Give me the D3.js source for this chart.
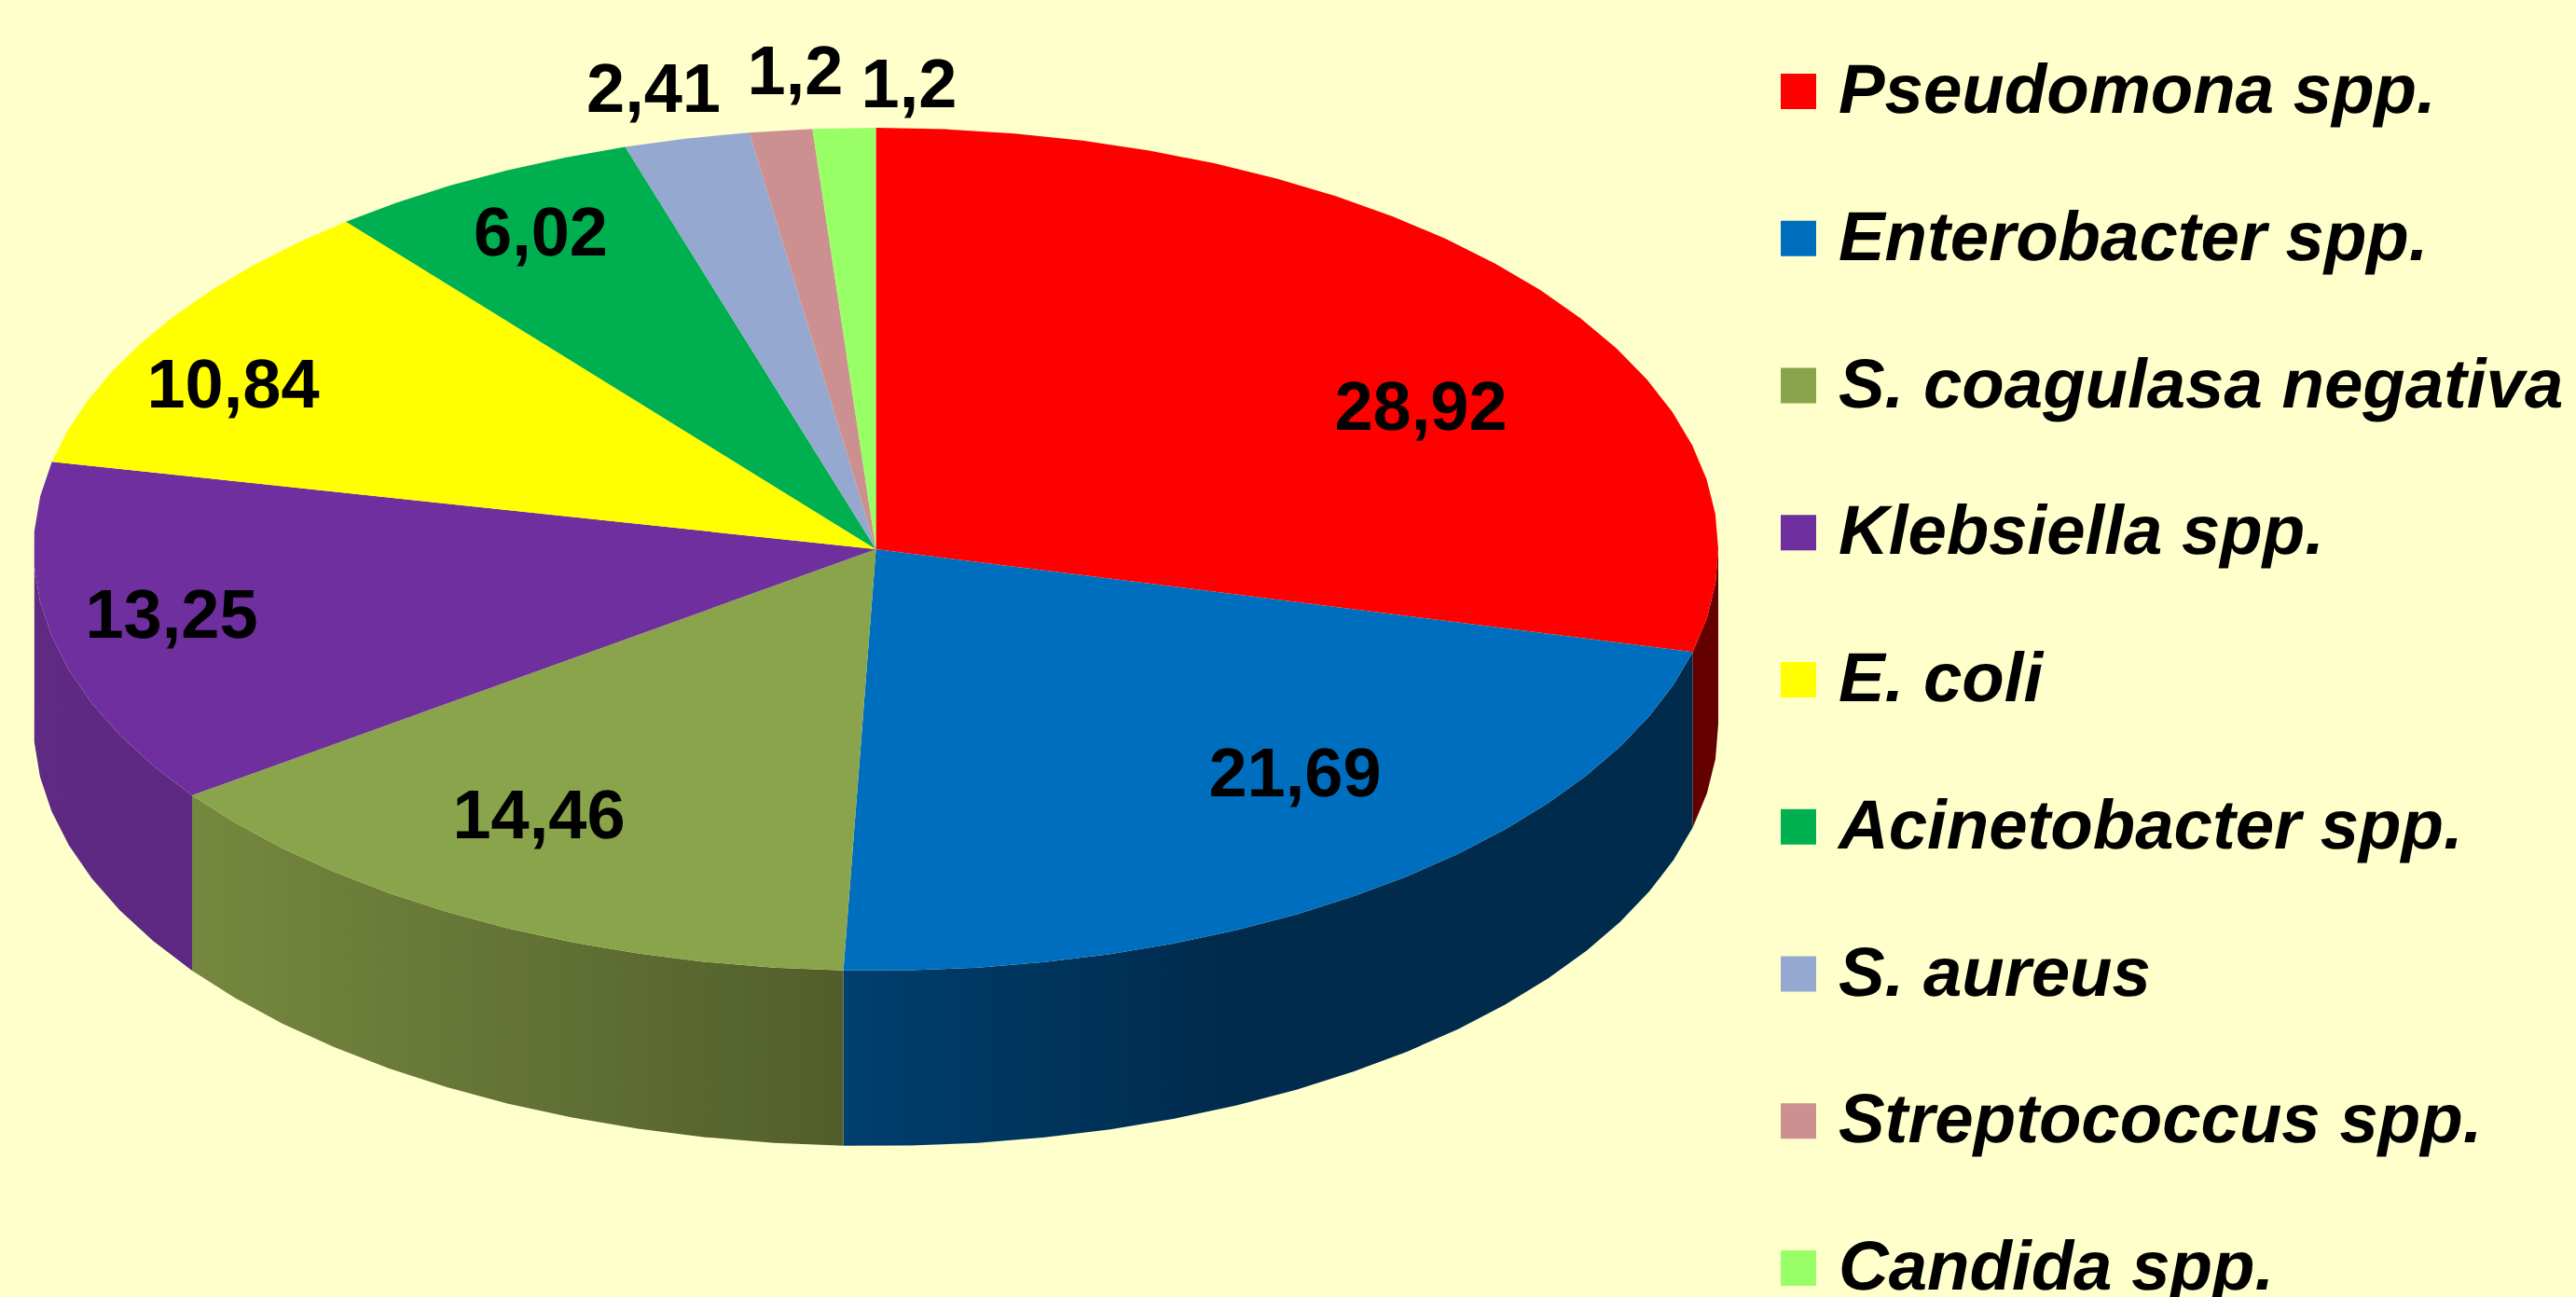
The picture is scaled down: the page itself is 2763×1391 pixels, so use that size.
<!DOCTYPE html>
<html>
<head>
<meta charset="utf-8">
<script src="https://cdn.jsdelivr.net/npm/d3@7"></script>
<style>
  html, body { margin: 0; padding: 0; background: #FFFFCC; overflow: hidden; }
  svg { display: block; }
  text { font-family: "Liberation Sans", Arial, sans-serif; font-weight: bold; font-size: 74px; fill: #000; text-rendering: geometricPrecision; }
</style>
</head>
<body>
<div id="chart"></div>
<script>
const categories = ["Pseudomona spp.", "Enterobacter spp.", "S. coagulasa negativa", "Klebsiella spp.", "E. coli", "Acinetobacter spp.", "S. aureus", "Streptococcus spp.", "Candida spp."];
const values = [28.92, 21.69, 14.46, 13.25, 10.84, 6.02, 2.41, 1.2, 1.2];
const colors = ["#FF0000", "#006EBF", "#8AA44C", "#6F2F9F", "#FFFF00", "#00AF50", "#95A8CF", "#CC9090", "#99FF66"];

// darker colours of the pie wall, [left end, right end] of each slice
const sideColors = [["#640000", "#640000"], ["#003F6E", "#002B4D"], ["#76883F", "#515E2B"], ["#5E2A84", "#5C2882"]];

// label centres and baselines
const labelX = [1524, 1389, 578, 184, 250, 580, 701, 853, 975];
const labelY = [461, 854, 899, 684, 437, 274, 120, 101, 115];

const width = 2763,
    height = 1391,
    cx = 939.5,
    cy = 589,
    rx = 903.5,
    ry = 452,
    depth = 188,
    facet = 4.8 * Math.PI / 180; // the original pie is a polygon, not a true curve

const legend = { x: 1910, textX: 1972, top: 79, step: 157.75, size: 38, font: 74.4 };

const svg = d3.select("#chart")
    .append("svg")
    .attr("width", width)
    .attr("height", height)
    .attr("viewBox", [0, 0, width, height]);

svg.append("rect")
    .attr("width", width)
    .attr("height", height)
    .attr("fill", "#FFFFCC");

const pie = d3.pie().sort(null).value(d => d)(values);

let x = d3.scaleLinear([-1, 1], [cx - rx, cx + rx]);
let y = d3.scaleLinear([-1, 1], [cy - ry, cy + ry]);

// rim points of a slice
function rim(d) {
    const n = Math.ceil((d.endAngle - d.startAngle) / facet);
    return d3.range(n + 1).map(k => d.startAngle + (d.endAngle - d.startAngle) * k / n);
}

const wall = d3.area()
    .x(a => x(Math.sin(a)))
    .y0(a => y(-Math.cos(a)))
    .y1(a => y(-Math.cos(a)) + depth);

const top_face = d3.line()
    .x(p => p == null ? cx : x(Math.sin(p)))
    .y(p => p == null ? cy : y(-Math.cos(p)));

const defs = svg.append("defs");

// walls: only the front half shows, the top faces cover what sticks out
pie.forEach((d, i) => {
    const angles = rim(d).filter(a => a > Math.PI / 2 - facet && a < Math.PI * 1.5 + facet);
    if (angles.length < 2) return;

    const x0 = d3.min(angles, a => x(Math.sin(a))),
        x1 = d3.max(angles, a => x(Math.sin(a)));

    const grad = defs.append("linearGradient")
        .attr("id", `side${i}`)
        .attr("gradientUnits", "userSpaceOnUse")
        .attr("x1", x0).attr("x2", x1)
        .attr("y1", 0).attr("y2", 0);
    grad.append("stop").attr("offset", 0).attr("stop-color", sideColors[i][0]);
    // the blue wall stops getting darker about half way along
    if (i == 1) grad.append("stop").attr("offset", 0.45).attr("stop-color", sideColors[i][1]);
    grad.append("stop").attr("offset", 1).attr("stop-color", sideColors[i][1]);

    svg.append("path")
        .attr("class", "side")
        .attr("d", wall(angles))
        .attr("fill", `url(#side${i})`);
});

svg.append("g")
    .selectAll("path")
    .data(pie)
    .join("path")
    .attr("class", "slice")
    .attr("d", d => top_face([null, ...rim(d)]) + "Z")
    .attr("fill", (d, i) => colors[i]);

svg.append("g")
    .selectAll("text")
    .data(values)
    .join("text")
    .attr("class", "value")
    .attr("x", (d, i) => labelX[i])
    .attr("y", (d, i) => labelY[i])
    .attr("text-anchor", "middle")
    .text(d => String(d).replace(".", ","));

const item = svg.append("g")
    .selectAll("g")
    .data(categories)
    .join("g")
    .attr("transform", (d, i) => `translate(0,${legend.top + i * legend.step})`);

item.append("rect")
    .attr("x", legend.x)
    .attr("width", legend.size)
    .attr("height", legend.size)
    .attr("fill", (d, i) => colors[i]);

item.append("text")
    .attr("x", legend.textX)
    .attr("y", 42)
    .style("font-style", "italic")
    .style("font-size", legend.font + "px")
    .text(d => d);
</script>
</body>
</html>
